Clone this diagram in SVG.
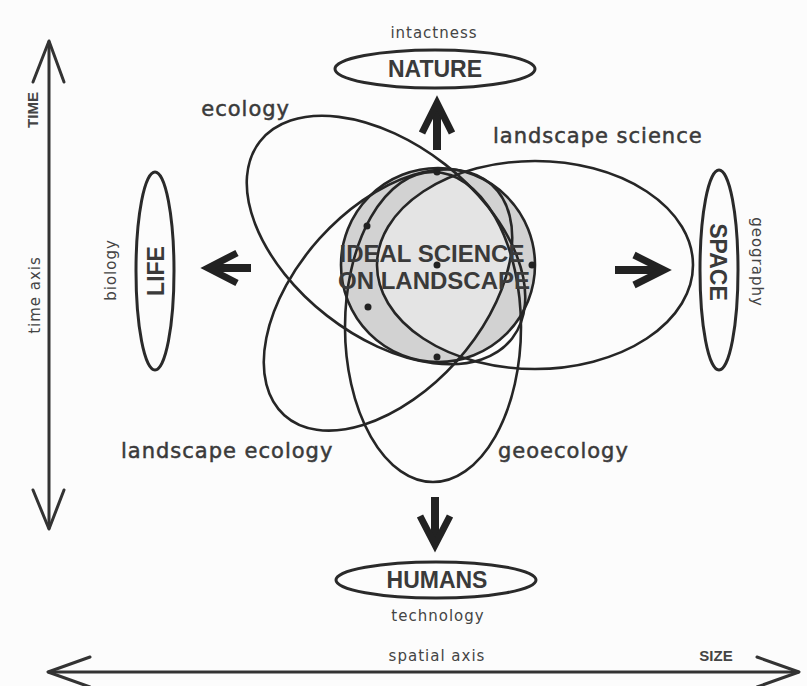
<svg xmlns="http://www.w3.org/2000/svg" width="807" height="686" viewBox="0 0 807 686">
  <defs>
    <style>
      .ell { fill: none; stroke: #262626; stroke-width: 2.6; }
      .node { fill: none; stroke: #2a2a2a; stroke-width: 3; }
      .cap { font-family: "Liberation Sans", Arial, sans-serif; font-weight: bold; font-size: 23px; fill: #3a3a3a; text-anchor: middle; }
      .lbl { font-family: "DejaVu Sans", "Liberation Sans", sans-serif; font-size: 21px; fill: #3a3a3a; stroke: #3a3a3a; stroke-width: 0.5; letter-spacing: 1px; }
      .small { font-family: "DejaVu Sans", "Liberation Sans", sans-serif; font-size: 15px; fill: #444; letter-spacing: 1px; text-anchor: middle; }
      .tag { font-family: "Liberation Sans", Arial, sans-serif; font-weight: bold; font-size: 15px; fill: #444; text-anchor: middle; }
      .axis { fill: none; stroke: #333; stroke-width: 3; stroke-linecap: round; stroke-linejoin: round; }
      .shaft { fill: none; stroke: #222; stroke-width: 8; }
      .head { fill: none; stroke: #222; stroke-width: 7; stroke-linejoin: miter; }
      .dot { fill: #222; }
    </style>
    <clipPath id="clip-eco"><ellipse cx="386" cy="240" rx="160" ry="96" transform="rotate(38 386 240)"/></clipPath>
    <clipPath id="clip-lsci"><ellipse cx="535" cy="265" rx="158" ry="104"/></clipPath>
    <clipPath id="clip-leco"><ellipse cx="388" cy="300" rx="155" ry="92" transform="rotate(-48 388 300)"/></clipPath>
    <clipPath id="clip-geo"><ellipse cx="433" cy="327" rx="88" ry="155"/></clipPath>
  </defs>

  <rect width="807" height="686" fill="#fcfcfc"/>

  <!-- central ideal science circle, lighter where all four fields overlap -->
  <g id="ideal-science">
    <circle cx="438" cy="265" r="97" fill="#d2d2d2"/>
    <g clip-path="url(#clip-eco)">
      <g clip-path="url(#clip-lsci)">
        <g clip-path="url(#clip-leco)">
          <g clip-path="url(#clip-geo)">
            <circle cx="438" cy="265" r="97" fill="#e4e4e4"/>
          </g>
        </g>
      </g>
    </g>
    <circle cx="438" cy="265" r="97" class="ell"/>
  </g>

  <!-- the four overlapping fields -->
  <g id="ecology">
    <ellipse class="ell" cx="386" cy="240" rx="160" ry="96" transform="rotate(38 386 240)"/>
    <text class="lbl" x="290" y="116" text-anchor="end">ecology</text>
  </g>
  <g id="landscape-science">
    <ellipse class="ell" cx="535" cy="265" rx="158" ry="104"/>
    <text class="lbl" x="493" y="143">landscape science</text>
  </g>
  <g id="landscape-ecology">
    <ellipse class="ell" cx="388" cy="300" rx="155" ry="92" transform="rotate(-48 388 300)"/>
    <text class="lbl" x="121" y="458">landscape ecology</text>
  </g>
  <g id="geoecology">
    <ellipse class="ell" cx="433" cy="327" rx="88" ry="155"/>
    <text class="lbl" x="498" y="458">geoecology</text>
  </g>

  <!-- marker dots and central caption -->
  <g id="ideal-science-label">
    <circle class="dot" cx="437" cy="172" r="3.5"/>
    <circle class="dot" cx="367" cy="226" r="3.5"/>
    <circle class="dot" cx="368" cy="307" r="3.5"/>
    <circle class="dot" cx="437" cy="265" r="3.5"/>
    <circle class="dot" cx="532" cy="265" r="3.5"/>
    <circle class="dot" cx="437" cy="357" r="3.5"/>
    <text class="cap" style="font-size:24px" x="432" y="262">IDEAL SCIENCE</text>
    <text class="cap" style="font-size:24px" x="434" y="289">ON LANDSCAPE</text>
  </g>

  <!-- outer poles -->
  <g id="nature">
    <ellipse class="node" cx="435" cy="69" rx="100" ry="19"/>
    <text class="cap" x="435" y="77">NATURE</text>
    <text class="small" x="434" y="38">intactness</text>
  </g>
  <g id="humans">
    <ellipse class="node" cx="436" cy="580" rx="100" ry="18"/>
    <text class="cap" x="437" y="588">HUMANS</text>
    <text class="small" x="438" y="621">technology</text>
  </g>
  <g id="life">
    <ellipse class="node" cx="155" cy="271" rx="19" ry="99"/>
    <text class="cap" x="164" y="271" transform="rotate(-90 164 271)">LIFE</text>
    <text class="small" x="116" y="270" transform="rotate(-90 116 270)">biology</text>
  </g>
  <g id="space">
    <ellipse class="node" cx="719" cy="270" rx="19" ry="100"/>
    <text class="cap" x="710" y="262" transform="rotate(90 710 262)">SPACE</text>
    <text class="small" x="752" y="262" transform="rotate(90 752 262)">geography</text>
  </g>

  <!-- arrows from the centre towards the poles -->
  <g id="connectors">
    <path class="shaft" d="M437,108 V150"/>
    <path class="head" d="M422,133 L437,103 L452,133"/>
    <path class="shaft" d="M435,497 V540"/>
    <path class="head" d="M420,516 L435,545 L450,516"/>
    <path class="shaft" d="M212,268 H251"/>
    <path class="head" d="M237,253 L208,268 L237,283"/>
    <path class="shaft" d="M615,270 H660"/>
    <path class="head" d="M634,255 L664,270 L634,285"/>
  </g>

  <!-- time axis -->
  <g id="time-axis">
    <path class="axis" d="M49,42 V528"/>
    <path class="axis" d="M33,82 L49,41 L64,82"/>
    <path class="axis" d="M33,490 L49,529 L64,490"/>
    <text class="tag" x="38" y="110" transform="rotate(-90 38 110)">TIME</text>
    <text class="small" x="40" y="295" transform="rotate(-90 40 295)">time axis</text>
  </g>

  <!-- spatial axis -->
  <g id="spatial-axis">
    <path class="axis" d="M49,672 H798"/>
    <path class="axis" d="M90,657 L48,672 L90,687"/>
    <path class="axis" d="M757,657 L799,672 L757,687"/>
    <text class="small" x="437" y="661">spatial axis</text>
    <text class="tag" x="716" y="661">SIZE</text>
  </g>
</svg>
